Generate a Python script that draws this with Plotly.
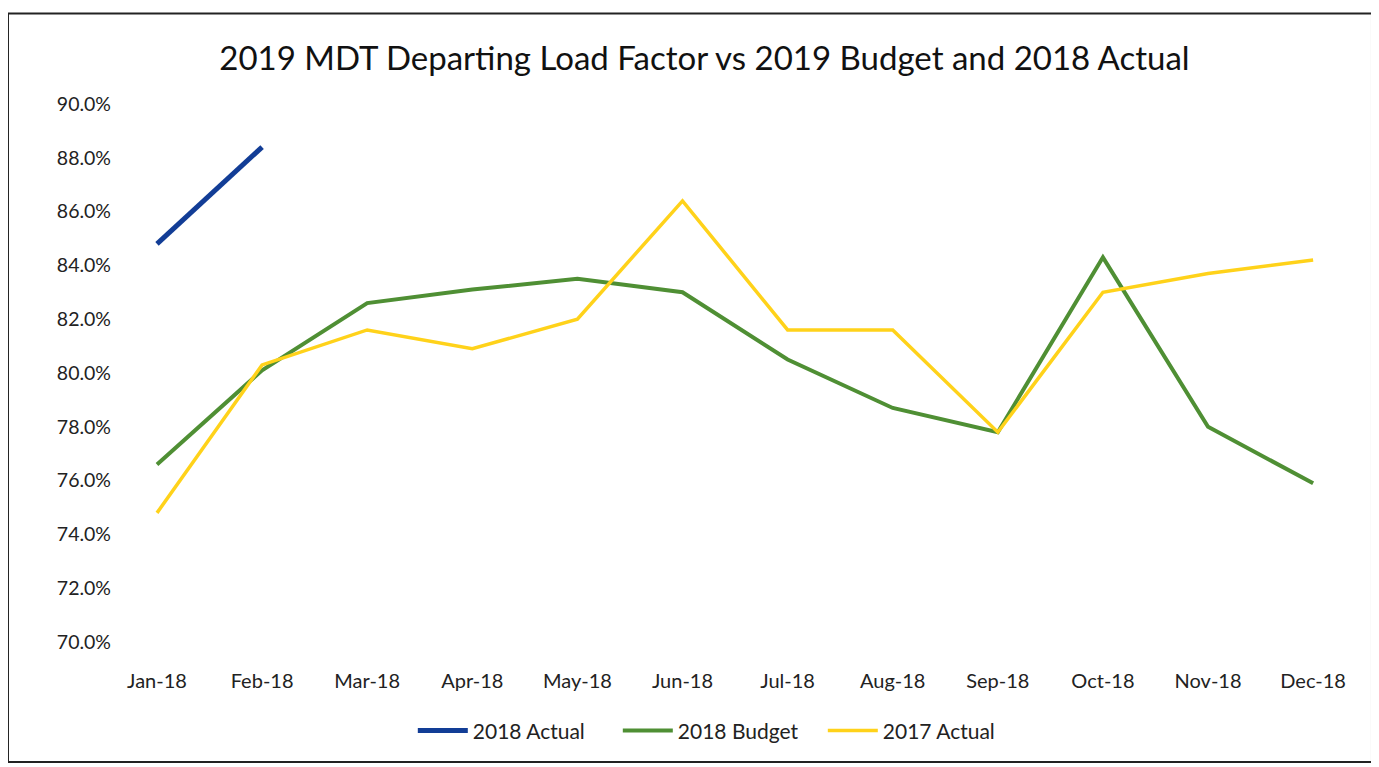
import plotly.graph_objects as go

months = ["Jan-18", "Feb-18", "Mar-18", "Apr-18", "May-18", "Jun-18",
          "Jul-18", "Aug-18", "Sep-18", "Oct-18", "Nov-18", "Dec-18"]
actual_2018 = [84.8, 88.4, None, None, None, None, None, None, None, None, None, None]
budget_2018 = [76.6, 80.1, 82.6, 83.1, 83.5, 83.0, 80.5, 78.7, 77.8, 84.3, 78.0, 75.9]
actual_2017 = [74.8, 80.3, 81.6, 80.9, 82.0, 86.4, 81.6, 81.6, 77.8, 83.0, 83.7, 84.2]
y_ticks = [70, 72, 74, 76, 78, 80, 82, 84, 86, 88, 90]

FONT = "Lato"
x = list(range(len(months)))

fig = go.Figure()
fig.add_trace(go.Scatter(x=x, y=actual_2018, mode="lines", name="2018 Actual",
                         line=dict(color="#123d96", width=5)))
fig.add_trace(go.Scatter(x=x, y=budget_2018, mode="lines", name="2018 Budget",
                         line=dict(color="#4f8f34", width=4)))
fig.add_trace(go.Scatter(x=x, y=actual_2017, mode="lines", name="2017 Actual",
                         line=dict(color="#ffd21a", width=3.5)))

fig.update_layout(
    width=1371, height=759,
    paper_bgcolor="white", plot_bgcolor="white",
    margin=dict(l=112, r=13, t=96, b=125),
    font=dict(family=FONT, color="#222222", size=18),
    title=dict(text="2019 MDT Departing Load Factor vs 2019 Budget and 2018 Actual",
               x=0.508, xanchor="center", y=0.934, yanchor="middle",
               font=dict(family=FONT, size=33, color="#111111")),
    showlegend=True,
    legend=dict(orientation="h", x=0.235, xanchor="left", y=-0.165, yanchor="middle",
                font=dict(family=FONT, size=21, color="#222222"),
                entrywidth=140, entrywidthmode="pixels",
                itemwidth=50, bgcolor="rgba(0,0,0,0)"),
    xaxis=dict(range=[-0.352, 11.503], tickmode="array", tickvals=x, ticktext=months,
               showgrid=False, zeroline=False, showline=False, ticks="",
               ticklabelstandoff=25, tickfont=dict(size=20)),
    yaxis=dict(range=[70, 90], tickmode="array", tickvals=y_ticks,
               ticktext=[f"{v:.1f}%" for v in y_ticks],
               showgrid=False, zeroline=False, showline=False, ticks="",
               ticklabelstandoff=8, tickfont=dict(size=19.5)),
)

fig.add_shape(type="rect", xref="paper", yref="paper",
              x0=-0.0899, x1=1.0048, y0=-0.223, y1=1.168,
              line=dict(color="#222222", width=2), fillcolor="rgba(0,0,0,0)",
              layer="below")

fig.write_html("out.html")
